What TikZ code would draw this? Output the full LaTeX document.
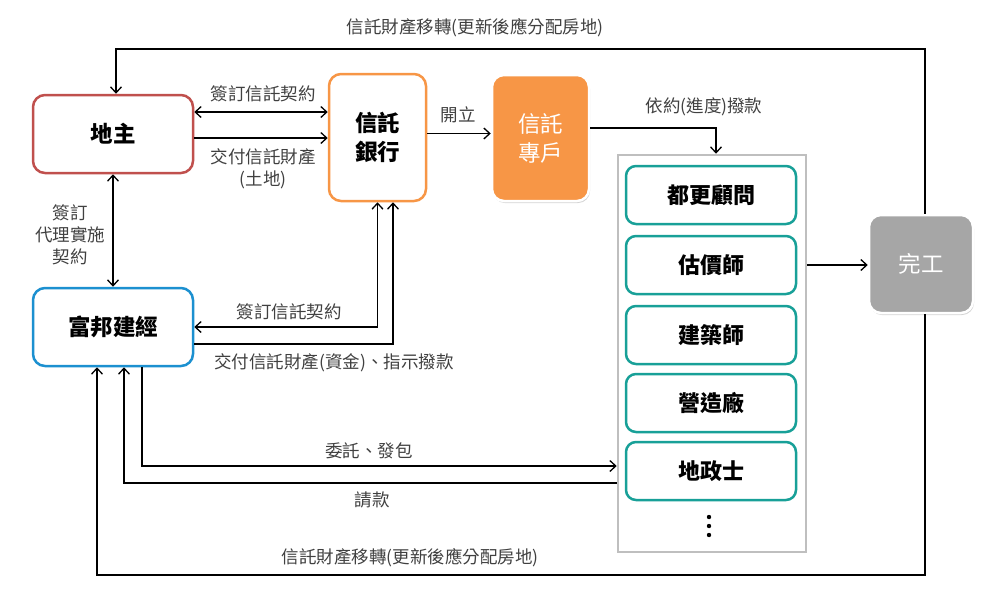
\documentclass[tikz,border=0pt]{standalone}
\usepackage{fontspec}
\setmainfont{Noto Sans CJK TC}
\usetikzlibrary{arrows.meta,shadows}
\definecolor{dzred}{RGB}{192,80,77}
\definecolor{bankor}{RGB}{247,150,70}
\definecolor{fbblue}{RGB}{28,144,208}
\definecolor{tealb}{RGB}{24,160,152}
\definecolor{contgray}{RGB}{191,191,191}
\definecolor{donegray}{RGB}{166,166,166}
\definecolor{lblgray}{RGB}{64,64,64}
\begin{document}
\begin{tikzpicture}[x=1pt,y=-1pt,
  mainbox/.style={rounded corners=12pt, line width=2.5pt, fill=white, inner sep=0pt,
    font=\fontsize{22.5}{29}\selectfont\bfseries, align=center},
  solidbox/.style={rounded corners=12pt, line width=2.5pt, draw=white, inner sep=0pt,
    text=white, font=\fontsize{22.5}{29}\selectfont, align=center,
    drop shadow={shadow xshift=1pt, shadow yshift=-2pt, opacity=0.35, fill=gray}},
  subbox/.style={draw=tealb, rounded corners=10pt, line width=2.5pt, fill=white, inner sep=0pt,
    minimum width=170pt, minimum height=58pt, font=\fontsize{22}{26}\selectfont\bfseries},
  lbl/.style={text=lblgray, font=\fontsize{17.5}{22}\selectfont, inner sep=0pt, align=center},
  arr/.style={line width=1.3pt, -{Straight Barb[length=6pt,width=11pt,line width=1.3pt]}},
  darr/.style={line width=1.3pt, {Straight Barb[length=6pt,width=11pt,line width=1.3pt]}-{Straight Barb[length=6pt,width=11pt,line width=1.3pt]}}
]
\useasboundingbox (0,0) rectangle (991,603);

% nodes
\node[mainbox, draw=dzred, minimum width=160pt, minimum height=78pt] (dz) at (113,134) {地主};
\node[mainbox, draw=bankor, minimum width=97pt, minimum height=127pt] (bank) at (377.5,137.5) {信託\\銀行};
\node[solidbox, fill=bankor, minimum width=97pt, minimum height=126pt] (acct) at (540.5,138) {信託\\專戶};
\node[mainbox, draw=fbblue, minimum width=160pt, minimum height=78pt] (fb) at (113,327) {富邦建經};
\node[draw=contgray, line width=2.5pt, fill=white, minimum width=188pt, minimum height=397pt, inner sep=0pt] (cont) at (712,353.5) {};
\node[subbox] (b1) at (711,195) {都更顧問};
\node[subbox] (b2) at (711,265) {估價師};
\node[subbox] (b3) at (711,335) {建築師};
\node[subbox] (b4) at (711,403) {營造廠};
\node[subbox] (b5) at (711,471) {地政士};
\node[solidbox, fill=donegray, minimum width=104pt, minimum height=98pt] (done) at (921,264) {完工};

\fill (709,517) circle (2.2pt);
\fill (709,526) circle (2.2pt);
\fill (709,535) circle (2.2pt);

% coordinates
\coordinate (p1) at ([yshift=22pt]dz.east);
\coordinate (p2) at ([yshift=-4pt]dz.east);
\coordinate (p3) at ([yshift=4pt]bank.east);
\coordinate (p4) at ([yshift=10pt]acct.east);
\coordinate (p5) at ([xshift=4pt]cont.north);
\coordinate (p6) at ([yshift=-17pt]fb.east);
\coordinate (p7) at ([xshift=15.5pt]bank.south);
\coordinate (p8) at ([xshift=29pt]fb.south);
\coordinate (p9) at ([yshift=5pt]cont.west |- b5.west);
\coordinate (p10) at ([yshift=-12pt]cont.west |- b5.west);
\coordinate (p11) at ([xshift=11pt]fb.south);
\coordinate (p12) at ([xshift=4pt]done.north);
\coordinate (p13) at ([xshift=3pt]dz.north);
\coordinate (p14) at (116,49);
\coordinate (p15) at ([xshift=4pt]done.south);
\coordinate (p16) at (925,575);
\coordinate (p17) at ([xshift=-16pt]fb.south);

% connectors
\draw[arr] (p12) |- (p14) -- (p13);
\draw[darr] (p1) -- (p1 -| bank.west);
\draw[arr] (p2) -- (p2 -| bank.west);
\draw[arr] (p3) -- (p3 -| acct.west);
\draw[arr] (p4) -| (p5);
\draw[darr] (dz.south) -- (fb.north);
\draw[darr] (bank.south) |- (fb.east);
\draw[arr] (p6) -| (p7);
\draw[arr] (p8) |- (p9);
\draw[arr] (p10) -| (p11);
\draw[arr] (p15) -- (p16) -| (p17);
\draw[arr] (cont.east |- b2) -- (done.west |- b2);

% labels
\node[lbl] (t1) at (475,28) {信託財產移轉(更新後應分配房地)};
\node[lbl] (t2) at (263,94) {簽訂信託契約};
\node[lbl] (t3) at (263,169) {交付信託財產\\(土地)};
\node[lbl] (t4) at (458,115) {開立};
\node[lbl] (t5) at (704,107) {依約(進度)撥款};
\node[lbl] (t6) at (70,235) {簽訂\\代理實施\\契約};
\node[lbl] (t7) at (289,312) {簽訂信託契約};
\node[lbl] (t8) at (334,363) {交付信託財產(資金)、指示撥款};
\node[lbl] (t9) at (369,451) {委託、發包};
\node[lbl] (t10) at (372,500) {請款};
\node[lbl] (t11) at (410,558) {信託財產移轉(更新後應分配房地)};
\end{tikzpicture}
\end{document}
